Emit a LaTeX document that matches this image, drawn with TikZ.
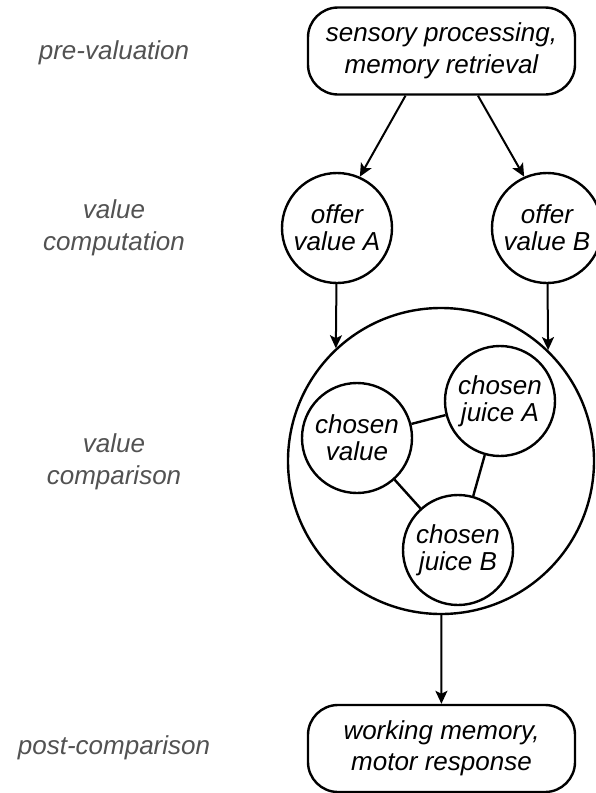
\documentclass[tikz,border=0pt]{standalone}
\usepackage{fontspec}
\setsansfont{Liberation Sans}
\usetikzlibrary{arrows.meta}

\begin{document}
\begin{tikzpicture}[x=1pt, y=-1pt,
    every node/.style={font=\sffamily\itshape\fontsize{26}{31.5}\selectfont, align=center},
    stage/.style={text=black!68},
    procbox/.style={draw, line width=2.4pt, rounded corners=30pt, minimum width=267pt, minimum height=87pt, inner sep=0pt},
    unit/.style={draw, circle, line width=2.4pt, minimum size=110pt, inner sep=0pt, font=\sffamily\itshape\fontsize{26}{27}\selectfont},
    flow/.style={-{Stealth[length=13pt, width=12pt, inset=3pt]}, line width=2pt},
    link/.style={line width=2.4pt}]
    \useasboundingbox (0,0) rectangle (595,793);

    \node[stage] (pre) at (114,53) {pre-valuation};
    \node[stage] (valcomp) at (114,228) {value\\computation};
    \node[stage] (valcmp) at (114,462) {value\\comparison};
    \node[stage] (post) at (114,748) {post-comparison};

    \node[procbox] (sens) at (441.5,51) {sensory processing,\\memory retrieval};
    \node[unit] (offA) at (337,228) {offer\\value A};
    \node[unit] (offB) at (547,228) {offer\\value B};

    \node[unit, minimum size=306pt] (ofc) at (441,461) {};
    \node[unit] (chval) at (357,438) {chosen\\value};
    \node[unit] (chA) at (500,401) {chosen\\juice A};
    \node[unit] (chB) at (458,550) {chosen\\juice B};

    \node[procbox] (resp) at (441.5,748.5) {working memory,\\motor response};

    \draw[flow] ([xshift=-36pt]sens.south) -- (offA.66);
    \draw[flow] ([xshift=36.5pt]sens.south) -- (offB.114);
    \draw[flow] (offA) -- (ofc.133);
    \draw[flow] (offB) -- (ofc.46);
    \draw[flow] (ofc) -- (resp);

    \draw[link] (chval) -- (chA); \draw[link] (chval) -- (chB); \draw[link] (chA) -- (chB);
\end{tikzpicture}
\end{document}
